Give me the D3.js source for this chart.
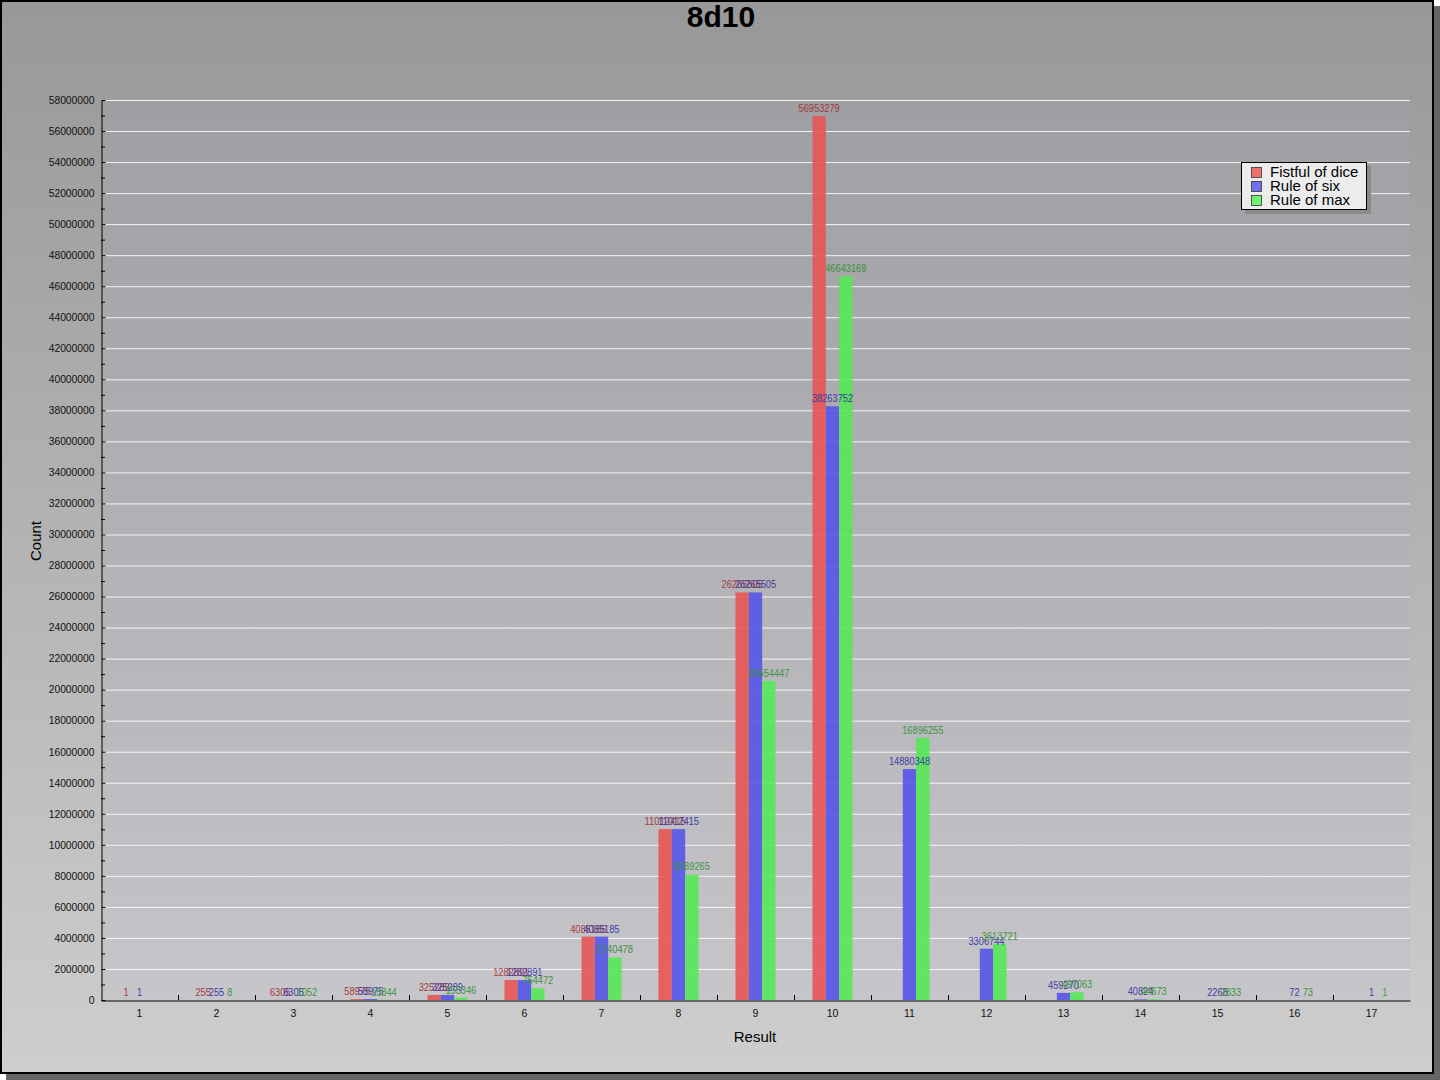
<!DOCTYPE html>
<html>
<head>
<meta charset="utf-8">
<script src="https://cdn.jsdelivr.net/npm/d3@7"></script>
<style>
  body { margin: 0; background: #fff; }
  svg { display: block; font-family: "Liberation Sans", Arial, sans-serif; }
</style>
</head>
<body>
<div id="viz"></div>
<script>
// data
var results = [1, 2, 3, 4, 5, 6, 7, 8, 9, 10, 11, 12, 13, 14, 15, 16, 17];
var seriesNames = ["Fistful of dice", "Rule of six", "Rule of max"];
var fistful = [1, 255, 6305, 58975, 325289, 1282891, 4085185, 11012415, 26265505, 56953279, null, null, null, null, null, null, null];
var ruleSix = [1, 255, 6305, 58975, 325289, 1282891, 4085185, 11012415, 26265505, 38263752, 14880348, 3306744, 459270, 40824, 2268, 72, 1];
var ruleMax = [null, 8, 1052, 15844, 153346, 754472, 2740478, 8089265, 20554447, 46643169, 16896255, 3613721, 497063, 44673, 2833, 73, 1];
var yTicks = d3.range(0, 58000001, 2000000);

var allSeries = [fistful, ruleSix, ruleMax];
var barColors = ["#e85656", "#5656e8", "#56e856"];
var labelColors = ["#a03030", "#3030a0", "#30902f"];
var legendColors = ["#f07070", "#7070f0", "#70f070"];

var W = 1440, H = 1080,
    chartW = 1434, chartH = 1074;
var plot = {left: 101, right: 1410, top: 100, bottom: 1000};

var svg = d3.select("#viz").append("svg")
    .attr("width", W)
    .attr("height", H);

var defs = svg.append("defs");
var grad = defs.append("linearGradient")
    .attr("id", "bg").attr("x1", 0).attr("y1", 0).attr("x2", 0).attr("y2", 1);
grad.append("stop").attr("offset", "0%").attr("stop-color", "#989898");
grad.append("stop").attr("offset", "100%").attr("stop-color", "#cecece");

// drop shadow + chart background
svg.append("rect").attr("x", 6).attr("y", 6).attr("width", chartW).attr("height", chartH).attr("fill", "#666");
svg.append("rect").attr("x", 1).attr("y", 1).attr("width", chartW - 2).attr("height", chartH - 2)
    .attr("fill", "url(#bg)").attr("stroke", "#000").attr("stroke-width", 2);

svg.append("text")
    .attr("x", 721).attr("y", 27)
    .attr("text-anchor", "middle")
    .style("font-size", "30px").style("font-weight", "bold")
    .text("8d10");

var x0 = d3.scaleBand()
    .domain(results)
    .range([plot.left, plot.right])
    .paddingInner(0).paddingOuter(0);

var groupW = 40;
var x1 = d3.scaleBand()
    .domain([0, 1, 2])
    .range([0, groupW]);

var y = d3.scaleLinear()
    .domain([0, 58000000])
    .range([plot.bottom, plot.top]);

// plot background
svg.append("rect")
    .attr("x", plot.left).attr("y", plot.top)
    .attr("width", plot.right - plot.left).attr("height", plot.bottom - plot.top)
    .attr("fill", "rgb(173,171,200)").attr("fill-opacity", 0.15);

// gridlines
svg.append("g").selectAll("line")
    .data(yTicks.filter(function(d) { return d > 0; }))
    .enter().append("line")
        .attr("x1", plot.left).attr("x2", plot.right)
        .attr("y1", function(d) { return y(d) + 0.5; })
        .attr("y2", function(d) { return y(d) + 0.5; })
        .attr("stroke", "#f4f4f4").attr("stroke-width", 1);

// bars
var plotG = svg.append("g").attr("opacity", 0.9);
allSeries.forEach(function(vals, s) {
    var off = (x0.bandwidth() - groupW) / 2 + x1(s);
    plotG.selectAll(".bar" + s)
        .data(vals.map(function(v, i) { return {r: results[i], v: v}; }).filter(function(d) { return d.v !== null; }))
        .enter().append("rect")
            .attr("x", function(d) { return x0(d.r) + off; })
            .attr("width", x1.bandwidth())
            .attr("y", function(d) { return y(d.v); })
            .attr("height", function(d) { return plot.bottom - y(d.v); })
            .attr("fill", barColors[s]);
});
allSeries.forEach(function(vals, s) {
    var off = (x0.bandwidth() - groupW) / 2 + x1(s) + x1.bandwidth() / 2;
    plotG.selectAll(".lab" + s)
        .data(vals.map(function(v, i) { return {r: results[i], v: v}; }).filter(function(d) { return d.v !== null; }))
        .enter().append("text")
            .attr("x", function(d) { return x0(d.r) + off; })
            .attr("y", function(d) { return y(d.v) - 4; })
            .attr("text-anchor", "middle")
            .attr("fill", labelColors[s])
            .style("font-size", "10.5px")
            .attr("textLength", function(d) { return String(d.v).length * 5.15; })
            .attr("lengthAdjust", "spacingAndGlyphs")
            .text(function(d) { return d.v; });
});

// y axis
var yAxis = d3.axisLeft(y)
    .tickValues(yTicks)
    .tickFormat(d3.format("d"))
    .tickSizeInner(-4).tickSizeOuter(0).tickPadding(7);
var yg = svg.append("g")
    .attr("transform", "translate(" + (plot.left + 0.5) + ",0)")
    .call(yAxis);
yg.selectAll("text").style("font-size", "10.3px").attr("fill", "#111");
yg.select(".domain").attr("stroke", "#000");
svg.append("g").selectAll("line")
    .data(d3.range(1000000, 58000000, 2000000))
    .enter().append("line")
        .attr("x1", plot.left).attr("x2", plot.left + 4)
        .attr("y1", function(d) { return y(d) + 0.5; })
        .attr("y2", function(d) { return y(d) + 0.5; })
        .attr("stroke", "#000");

// x axis
var xAxis = d3.axisBottom(x0).tickSize(0).tickPadding(9);
var xg = svg.append("g")
    .attr("transform", "translate(0," + (plot.bottom + 0.5) + ")")
    .call(xAxis);
xg.selectAll("text").style("font-size", "10.5px").attr("fill", "#111");
xg.select(".domain").attr("stroke", "#000");
svg.append("g").selectAll("line")
    .data(results.slice(1))
    .enter().append("line")
        .attr("x1", function(d) { return Math.round(x0(d)) + 0.5; })
        .attr("x2", function(d) { return Math.round(x0(d)) + 0.5; })
        .attr("y1", plot.bottom - 5).attr("y2", plot.bottom)
        .attr("stroke", "#000");

svg.append("text")
    .attr("x", 755).attr("y", 1042)
    .attr("text-anchor", "middle")
    .style("font-size", "15px")
    .text("Result");
svg.append("text")
    .attr("transform", "translate(41,541) rotate(-90)")
    .attr("text-anchor", "middle")
    .style("font-size", "15px")
    .text("Count");

// legend
var lg = svg.append("g").attr("transform", "translate(1241,162)");
lg.append("rect").attr("x", 4).attr("y", 4).attr("width", 126).attr("height", 48).attr("fill", "#8a8a8a");
lg.append("rect").attr("x", 0.5).attr("y", 0.5).attr("width", 125).attr("height", 47)
    .attr("fill", "#ececec").attr("stroke", "#000");
seriesNames.forEach(function(n, i) {
    lg.append("rect")
        .attr("x", 10.5).attr("y", 5.5 + i * 14)
        .attr("width", 10).attr("height", 10)
        .attr("fill", legendColors[i]).attr("stroke", "#333").attr("stroke-width", 0.8);
    lg.append("text")
        .attr("x", 29).attr("y", 15 + i * 14)
        .style("font-size", "15px")
        .text(n);
});
</script>
</body>
</html>
